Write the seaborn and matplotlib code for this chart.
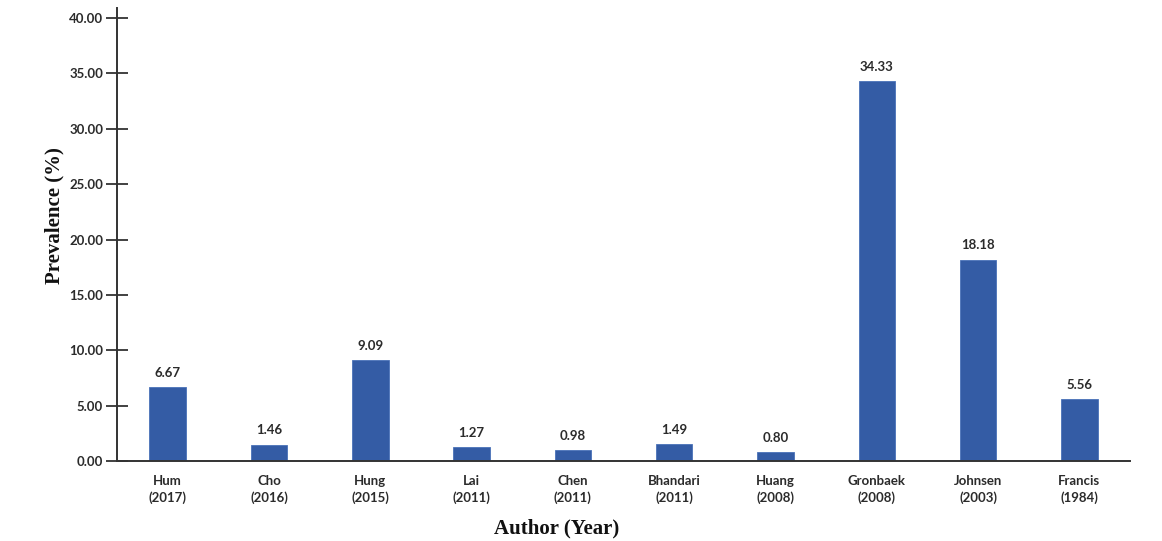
import matplotlib
matplotlib.use("Agg")
import matplotlib.pyplot as plt
import seaborn as sns
import pandas as pd

authors = ["Hum", "Cho", "Hung", "Lai", "Chen", "Bhandari", "Huang", "Gronbaek", "Johnsen", "Francis"]
years = ["2017", "2016", "2015", "2011", "2011", "2011", "2008", "2008", "2003", "1984"]
prevalence = [6.67, 1.46, 9.09, 1.27, 0.98, 1.49, 0.80, 34.33, 18.18, 5.56]
y_ticks = [0, 5, 10, 15, 20, 25, 30, 35, 40]

labels = [f"{a}\n({y})" for a, y in zip(authors, years)]
df = pd.DataFrame({"study": labels, "prevalence": prevalence})

sns.set_theme(style="white")
plt.rcParams["font.family"] = ["Lato", "DejaVu Sans"]

bar_color = "#345CA5"
ink = "#2b2b2b"

fig = plt.figure(figsize=(11.62, 5.41), dpi=100)
ax = fig.add_axes([0.1007, 0.148, 0.8718, 0.837])

sns.barplot(data=df, x="study", y="prevalence", color=bar_color, width=0.36,
            saturation=1, ax=ax, edgecolor="#4a72b8", linewidth=0.6)

ax.set_xlim(-0.5, 9.5)
ax.set_ylim(0, 40.9)
ax.set_yticks(y_ticks)
ax.set_yticklabels([f"{v:.2f}" for v in y_ticks], fontsize=9.5, fontweight="bold", color=ink)
ax.tick_params(axis="y", direction="inout", length=16, width=1.3, color="#333333", pad=2, left=True)
ax.tick_params(axis="x", length=0, pad=10)
for lbl in ax.get_xticklabels():
    lbl.set_fontsize(9.5)
    lbl.set_fontweight("bold")
    lbl.set_color(ink)
    lbl.set_linespacing(1.45)

for side in ["top", "right"]:
    ax.spines[side].set_visible(False)
for side in ["left", "bottom"]:
    ax.spines[side].set_color("#333333")
    ax.spines[side].set_linewidth(1.4)

for i, v in enumerate(prevalence):
    ax.annotate(f"{v:.2f}", (i, v), xytext=(0, 6), textcoords="offset points",
                ha="center", va="bottom", fontsize=9.5, fontweight="bold", color=ink)

serif = ["Liberation Serif", "DejaVu Serif"]
ax.set_ylabel("Prevalence (%)", fontsize=15, fontweight="bold", family=serif, color="#111111")
ax.yaxis.set_label_coords(-0.052, 0.541)
ax.set_xlabel("Author (Year)", fontsize=15, fontweight="bold", family=serif, color="#111111")
ax.xaxis.set_label_coords(0.434, -0.128)

fig.savefig("out.png", dpi=100, facecolor="white")
